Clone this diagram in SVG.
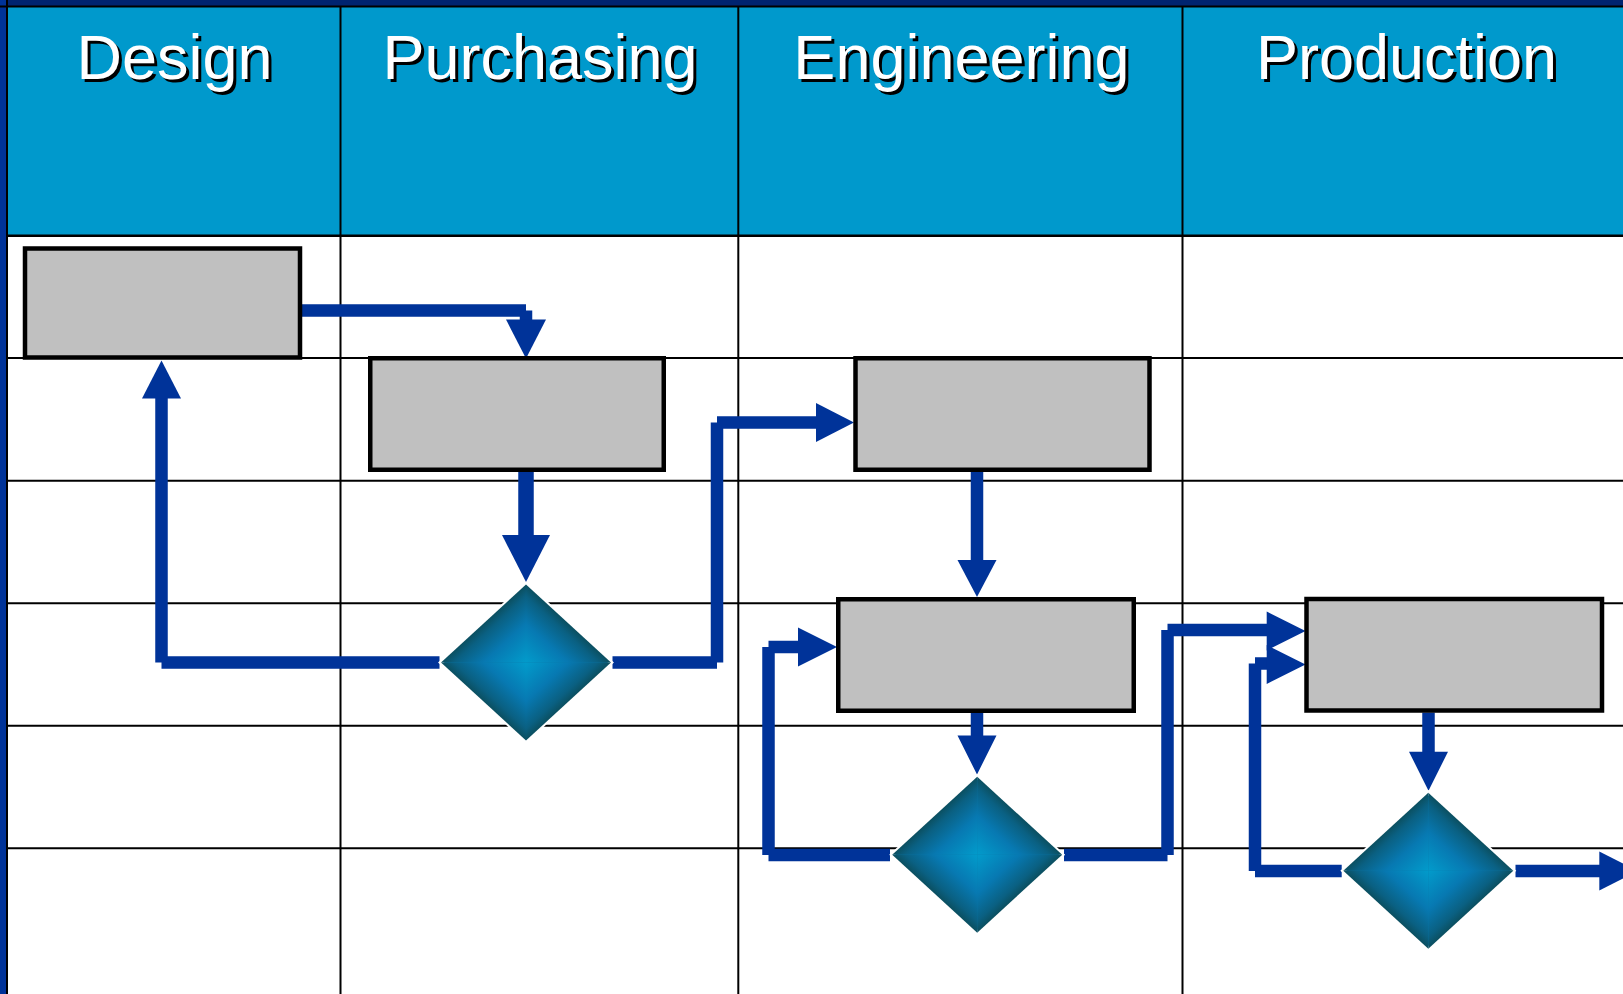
<svg xmlns="http://www.w3.org/2000/svg" xmlns:xlink="http://www.w3.org/1999/xlink" width="1623" height="994" viewBox="0 0 1623 994">
  <style>
    .grid { stroke: #000; stroke-width: 2; fill: none; }
    .hdr { font-family: "Liberation Sans", Arial, sans-serif; font-size: 63px; text-anchor: middle; }
    .hdr-shadow { fill: #000; }
    .hdr-text { fill: #fff; }
    .task { fill: #C0C0C0; stroke: #000; stroke-width: 4.5; }
    .flow { stroke: #003399; stroke-width: 12.5; fill: none; stroke-linecap: butt; }
    .flow-heavy { stroke: #003399; stroke-width: 15.5; fill: none; stroke-linecap: butt; }
    .head { fill: #003399; }
  </style>
  <defs>
    <!-- four quadrant ramps: bright at the centre, dark at the outer edge -->
    <linearGradient id="gTR" x1="0" y1="1" x2="0.5" y2="0.5">
      <stop offset="0" stop-color="#029BCB"/>
      <stop offset="0.5" stop-color="#0779B2"/>
      <stop offset="0.85" stop-color="#0A6082"/>
      <stop offset="1" stop-color="#0B4F60"/>
    </linearGradient>
    <linearGradient id="gTL" x1="1" y1="1" x2="0.5" y2="0.5">
      <stop offset="0" stop-color="#029BCB"/>
      <stop offset="0.5" stop-color="#0779B2"/>
      <stop offset="0.85" stop-color="#0A6082"/>
      <stop offset="1" stop-color="#0B4F60"/>
    </linearGradient>
    <linearGradient id="gBR" x1="0" y1="0" x2="0.5" y2="0.5">
      <stop offset="0" stop-color="#029BCB"/>
      <stop offset="0.5" stop-color="#0779B2"/>
      <stop offset="0.85" stop-color="#0A6082"/>
      <stop offset="1" stop-color="#0B4F60"/>
    </linearGradient>
    <linearGradient id="gBL" x1="1" y1="0" x2="0.5" y2="0.5">
      <stop offset="0" stop-color="#029BCB"/>
      <stop offset="0.5" stop-color="#0779B2"/>
      <stop offset="0.85" stop-color="#0A6082"/>
      <stop offset="1" stop-color="#0B4F60"/>
    </linearGradient>
    <g id="decision">
      <polygon points="0,-78 85,0 0,78 -85,0" fill="#0876A8" stroke="#fff" stroke-width="4"/>
      <polygon points="0,0 0,-78 85,0" fill="url(#gTR)"/>
      <polygon points="0,0 0,-78 -85,0" fill="url(#gTL)"/>
      <polygon points="0,0 0,78 85,0" fill="url(#gBR)"/>
      <polygon points="0,0 0,78 -85,0" fill="url(#gBL)"/>
    </g>
  </defs>

  <!-- page -->
  <rect x="0" y="0" width="1623" height="994" fill="#fff"/>
  <rect x="0" y="0" width="1623" height="7" fill="#002470"/>
  <rect x="0" y="0" width="6.5" height="994" fill="#003399"/>

  <!-- lane headers -->
  <g id="headers">
    <rect x="7" y="7" width="1616" height="229" fill="#0099CC"/>
    <text class="hdr hdr-shadow" x="177.5" y="82">Design</text>
    <text class="hdr hdr-text" x="174.5" y="79">Design</text>
    <text class="hdr hdr-shadow" x="543" y="82">Purchasing</text>
    <text class="hdr hdr-text" x="540" y="79">Purchasing</text>
    <text class="hdr hdr-shadow" x="964.5" y="82">Engineering</text>
    <text class="hdr hdr-text" x="961.5" y="79">Engineering</text>
    <text class="hdr hdr-shadow" x="1409.5" y="82">Production</text>
    <text class="hdr hdr-text" x="1406.5" y="79">Production</text>
  </g>

  <!-- table rules -->
  <g id="grid" class="grid">
    <line x1="0" y1="6.5" x2="1623" y2="6.5"/>
    <line x1="7" y1="0" x2="7" y2="994"/>
    <line x1="340.5" y1="7" x2="340.5" y2="994"/>
    <line x1="738.3" y1="7" x2="738.3" y2="994"/>
    <line x1="1182.5" y1="7" x2="1182.5" y2="994"/>
    <line x1="7" y1="235.7" x2="1623" y2="235.7" stroke-width="2.5"/>
    <line x1="7" y1="358.1" x2="1623" y2="358.1"/>
    <line x1="7" y1="480.7" x2="1623" y2="480.7"/>
    <line x1="7" y1="603.3" x2="1623" y2="603.3"/>
    <line x1="7" y1="725.7" x2="1623" y2="725.7"/>
    <line x1="7" y1="848.3" x2="1623" y2="848.3"/>
  </g>

  <!-- flow connectors (segments drawn separately, butt ends) -->
  <g id="connectors">
    <path class="flow" d="M301 310.5 H526 M526 310.5 V320"/>
    <polygon class="head" points="506,319.5 546,319.5 526,358.5"/>

    <path class="flow-heavy" d="M526 471 V536"/>
    <polygon class="head" points="502,535 550,535 526,582"/>

    <path class="flow" d="M439.5 662.5 H161.5 M161.5 662.5 V398"/>
    <polygon class="head" points="142,398.5 181,398.5 161.5,360.5"/>

    <path class="flow" d="M612.5 662.5 H717 M717 662.5 V422.5 M717 422.5 H816.5"/>
    <polygon class="head" points="816,403 816,442 854,422.5"/>

    <path class="flow" d="M977 471 V561"/>
    <polygon class="head" points="957.5,560 996.5,560 977,597"/>

    <path class="flow" d="M977 712.5 V736"/>
    <polygon class="head" points="957.5,735.5 996.5,735.5 977,774.5"/>

    <path class="flow" d="M890 855 H768.5 M768.5 855 V647 M768.5 647 H798.5"/>
    <polygon class="head" points="798,627.5 798,666.5 837,647"/>

    <path class="flow" d="M1064 855 H1167.5 M1167.5 855 V630 M1167.5 630 H1267"/>
    <polygon class="head" points="1266.7,611.5 1266.7,650.5 1305.5,631"/>

    <path class="flow" d="M1341.7 871 H1255 M1255 871 V663.5 M1255 663.5 H1267"/>
    <polygon class="head" points="1266.7,645 1266.7,684 1305.5,664.5"/>

    <path class="flow" d="M1428.5 712.5 V752"/>
    <polygon class="head" points="1409,751.7 1448,751.7 1428.5,790.7"/>

    <path class="flow" d="M1515.5 871 H1600"/>
    <polygon class="head" points="1599.3,851.5 1599.3,890.5 1638,871"/>
  </g>

  <!-- process steps -->
  <g id="design-step">
    <rect class="task" x="25" y="248.5" width="275" height="109"/>
  </g>
  <g id="purchasing-step">
    <rect class="task" x="370.25" y="358.25" width="293.5" height="111.5"/>
  </g>
  <g id="engineering-step-1">
    <rect class="task" x="855.5" y="358.25" width="294" height="111.5"/>
  </g>
  <g id="engineering-step-2">
    <rect class="task" x="838.25" y="599.25" width="295.5" height="111.5"/>
  </g>
  <g id="production-step">
    <rect class="task" x="1306.5" y="599" width="295.5" height="111.5"/>
  </g>

  <!-- decisions -->
  <g id="purchasing-decision">
    <use xlink:href="#decision" href="#decision" x="526" y="662.5"/>
  </g>
  <g id="engineering-decision">
    <use xlink:href="#decision" href="#decision" x="977.2" y="854.7"/>
  </g>
  <g id="production-decision">
    <use xlink:href="#decision" href="#decision" x="1428.3" y="870.7"/>
  </g>
</svg>
